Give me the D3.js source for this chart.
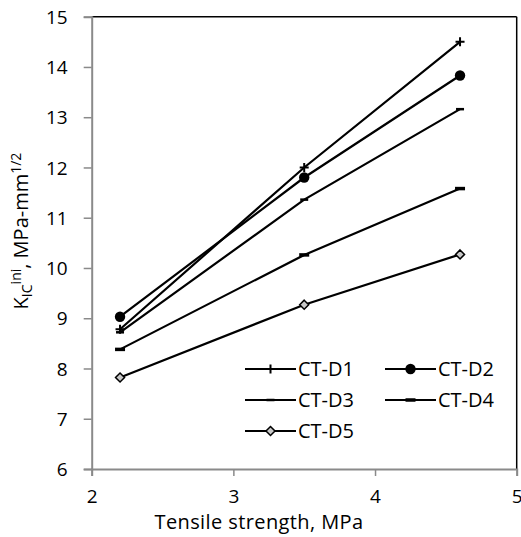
<!DOCTYPE html>
<html><head><meta charset="utf-8">
<script src="https://cdn.jsdelivr.net/npm/d3@7/dist/d3.min.js"></script>
<style>body{margin:0;background:#fff}svg{display:block}text{font-family:"Open Sans",Lato,sans-serif;fill:#000}</style>
</head><body><svg id="c" width="521" height="537"></svg>
<script>
const xValues = [2.2, 3.5, 4.6];
const seriesNames = ["CT-D1", "CT-D2", "CT-D3", "CT-D4", "CT-D5"];
const ctD1 = [8.78, 12.0, 14.5];
const ctD2 = [9.03, 11.8, 13.83];
const ctD3 = [8.72, 11.36, 13.16];
const ctD4 = [8.38, 10.26, 11.58];
const ctD5 = [7.82, 9.27, 10.27];
const xTicks = [2, 3, 4, 5];
const yTicks = [6, 7, 8, 9, 10, 11, 12, 13, 14, 15];
const markers = ["plus", "circle", "dash", "dashwide", "diamond"];

const svg = d3.select("#c");
const x = d3.scaleLinear().domain([2, 5]).range([91.7, 516.7]);
const y = d3.scaleLinear().domain([6, 15]).range([469, 16.7]);
const gray = "#8a8a8a";

// frame top/right
svg.append("line").attr("x1", x(2)).attr("x2", x(5)).attr("y1", y(15)).attr("y2", y(15)).attr("stroke", "#000").attr("stroke-width", 1.5);
svg.append("line").attr("x1", x(5)).attr("x2", x(5)).attr("y1", y(15)).attr("y2", y(6)).attr("stroke", "#000").attr("stroke-width", 1.5);

// axes
const yAxis = d3.axisLeft(y).tickValues(yTicks).tickSize(8).tickPadding(16).tickFormat(d3.format("d"));
const gy = svg.append("g").attr("transform", `translate(${x(2)},0)`).call(yAxis);
const xAxis = d3.axisBottom(x).tickValues(xTicks).tickSize(7).tickPadding(14).tickFormat(d3.format("d"));
const gx = svg.append("g").attr("transform", `translate(0,${y(6)})`).call(xAxis);
[gx, gy].forEach(g => {
  g.select(".domain").attr("stroke", gray).attr("stroke-width", 2);
  g.selectAll(".tick line").attr("stroke", gray).attr("stroke-width", 1.5);
  g.selectAll(".tick text").style("font-family", "'Open Sans', sans-serif").style("font-size", "19px").attr("fill", "#000");
});
gy.selectAll(".tick text").attr("dy", "0.35em");

// axis titles
svg.append("text").attr("x", 259).attr("y", 529).attr("text-anchor", "middle").style("font-size", "20px").style("letter-spacing", "0.4px").text("Tensile strength, MPa");
const yt = svg.append("text").attr("transform", "translate(28,231) rotate(-90)").attr("text-anchor", "middle").style("font-size", "20px");
yt.append("tspan").text("K");
yt.append("tspan").attr("dy", 4).style("font-size", "14px").text("IC");
yt.append("tspan").attr("dy", -11.5).style("font-size", "14px").text("ini");
yt.append("tspan").attr("dy", 7.5).text(", MPa-mm");
yt.append("tspan").attr("dy", -7.5).style("font-size", "14px").text("1/2");

const all = [ctD1, ctD2, ctD3, ctD4, ctD5];
const line = d3.line().x((d, i) => x(xValues[i])).y(d => y(d));

function drawMarker(g, type, cx, cy) {
  if (type === "plus") {
    g.append("path").attr("d", `M${cx-4.5},${cy}H${cx+4.5}M${cx},${cy-4.5}V${cy+4.5}`).attr("stroke", "#000").attr("stroke-width", 2);
  } else if (type === "circle") {
    g.append("circle").attr("cx", cx).attr("cy", cy).attr("r", 5.2).attr("fill", "#000");
  } else if (type === "dash") {
    g.append("path").attr("d", `M${cx-4},${cy}H${cx+4}`).attr("stroke", "#000").attr("stroke-width", 2.5);
  } else if (type === "dashwide") {
    g.append("path").attr("d", `M${cx-5},${cy}H${cx+5}`).attr("stroke", "#000").attr("stroke-width", 3.5);
  } else if (type === "diamond") {
    g.append("path").attr("d", `M${cx},${cy-4.5}L${cx+4.5},${cy}L${cx},${cy+4.5}L${cx-4.5},${cy}Z`).attr("fill", "#c8c8c8").attr("stroke", "#000").attr("stroke-width", 1.5);
  }
}

all.forEach((s, k) => {
  const g = svg.append("g");
  g.append("path").datum(s).attr("d", line).attr("fill", "none").attr("stroke", "#000").attr("stroke-width", 2.2);
  s.forEach((v, i) => drawMarker(g, markers[k], x(xValues[i]), y(v)));
});

// legend
const legPos = [[245, 369], [385, 369], [245, 400], [385, 400], [245, 431]];
seriesNames.forEach((n, k) => {
  const [lx, ly] = legPos[k];
  const g = svg.append("g");
  g.append("line").attr("x1", lx).attr("x2", lx + 51).attr("y1", ly).attr("y2", ly).attr("stroke", "#000").attr("stroke-width", 2.2);
  drawMarker(g, markers[k], lx + 25.5, ly);
  g.append("text").attr("x", lx + 53).attr("y", ly).attr("dy", "0.35em").style("font-size", "20px").text(n);
});
</script></body></html>
